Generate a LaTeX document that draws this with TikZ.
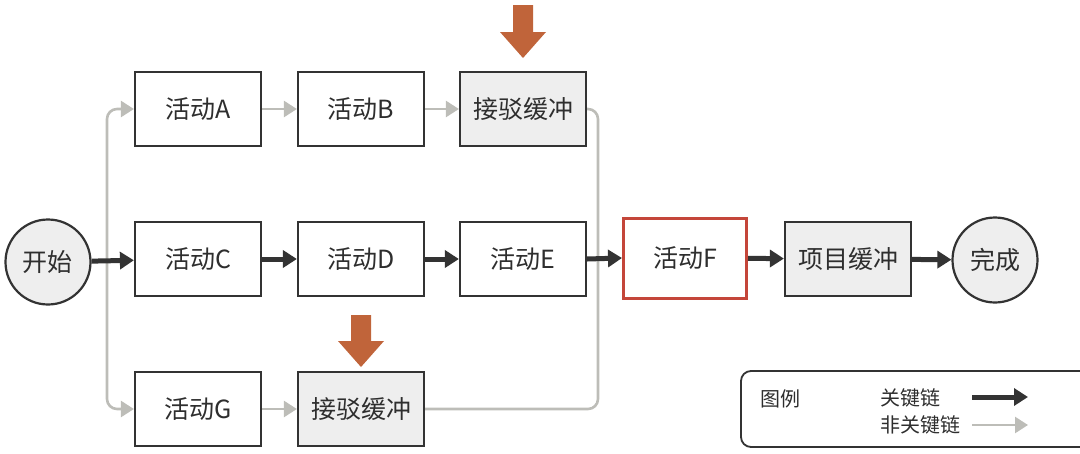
\documentclass[tikz,border=0pt]{standalone}
\usepackage{fontspec}
\setmainfont{Noto Sans CJK SC}
\usetikzlibrary{arrows.meta}
\definecolor{crit}{HTML}{333333}
\definecolor{noncrit}{HTML}{BDBDB8}
\definecolor{bufill}{HTML}{EEEEEE}
\definecolor{redb}{HTML}{C4463A}
\definecolor{orangea}{HTML}{C0643A}
\definecolor{txt}{HTML}{2E2E2E}
\tikzset{
  box/.style={draw=crit, line width=2.2pt, minimum width=126pt, minimum height=74pt, inner sep=0pt, text=txt, font=\fontsize{25}{28}\selectfont, fill=white},
  buf/.style={box, fill=bufill},
  redbox/.style={box, draw=redb, line width=3pt, minimum height=80pt, minimum width=123pt},
  circ/.style={draw=crit, line width=2.2pt, circle, minimum size=85pt, inner sep=0pt, fill=bufill, text=txt, font=\fontsize{25}{28}\selectfont},
  critarr/.style={draw=crit, line width=5pt, -{Triangle[length=14pt,width=17pt]}},
  nonarr/.style={draw=noncrit, line width=2.6pt, rounded corners=10pt, -{Triangle[length=13pt,width=16pt]}},
  nonline/.style={draw=noncrit, line width=2.6pt, rounded corners=10pt},
  bigarrow/.style={fill=orangea, draw=none},
  legtxt/.style={text=txt, font=\fontsize{20}{22}\selectfont, inner sep=0pt}
}
\begin{document}
\begin{tikzpicture}[x=1pt,y=-1pt]
\useasboundingbox (0,0) rectangle (1080,453);
% nodes
\node[circ] (start) at (48,262) {开始};
\node[box] (A) at (198,109) {活动A};
\node[box] (B) at (361,109) {活动B};
\node[buf] (FB1) at (523,109) {接驳缓冲};
\node[box] (C) at (198,259) {活动C};
\node[box] (D) at (361,259) {活动D};
\node[box] (E) at (523,259) {活动E};
\node[redbox] (F) at (685,258) {活动F};
\node[buf] (PB) at (848,259) {项目缓冲};
\node[circ] (done) at (995,260) {完成};
\node[box] (G) at (198,409) {活动G};
\node[buf] (FB2) at (361,409) {接驳缓冲};
% branch coordinates
\coordinate (split) at (107,262);
\coordinate (join) at (598,262);
% non-critical connectors
\draw[nonarr] (split) |- (A.west);
\draw[nonarr] (split) |- (G.west);
\draw[nonarr] (A) -- (B);
\draw[nonarr] (B) -- (FB1);
\draw[nonarr] (G) -- (FB2);
\draw[nonline] (FB1.east) -| (join);
\draw[nonline] (FB2.east) -| (join);
% critical connectors
\draw[critarr] (start) -- (C);
\draw[critarr] (C) -- (D);
\draw[critarr] (D) -- (E);
\draw[critarr] (E.east) -- (F.west);
\draw[critarr] (F) -- (PB);
\draw[critarr] (PB) -- (done);
% orange arrows
\fill[bigarrow] (513,5) -- (533,5) -- (533,32) -- (546,32) -- (523,58) -- (500,32) -- (513,32) -- cycle;
\fill[bigarrow] (351,315) -- (371,315) -- (371,341) -- (384,341) -- (361,367) -- (338,341) -- (351,341) -- cycle;
% legend
\draw[draw=crit, line width=1.8pt, rounded corners=10pt] (1100,371) -- (741,371) -- (741,447) -- (1100,447);
\node[legtxt, anchor=west] (legtitle) at (760,399) {图例};
\node[legtxt, anchor=west] (legc) at (880,398) {关键链};
\node[legtxt, anchor=west] (legn) at (880,425) {非关键链};
\coordinate (lc1) at (972,397);
\coordinate (lc2) at (1028,397);
\coordinate (ln1) at (972,425);
\coordinate (ln2) at (1028,425);
\draw[critarr] (lc1) -- (lc2);
\draw[nonarr] (ln1) -- (ln2);
\end{tikzpicture}
\end{document}
